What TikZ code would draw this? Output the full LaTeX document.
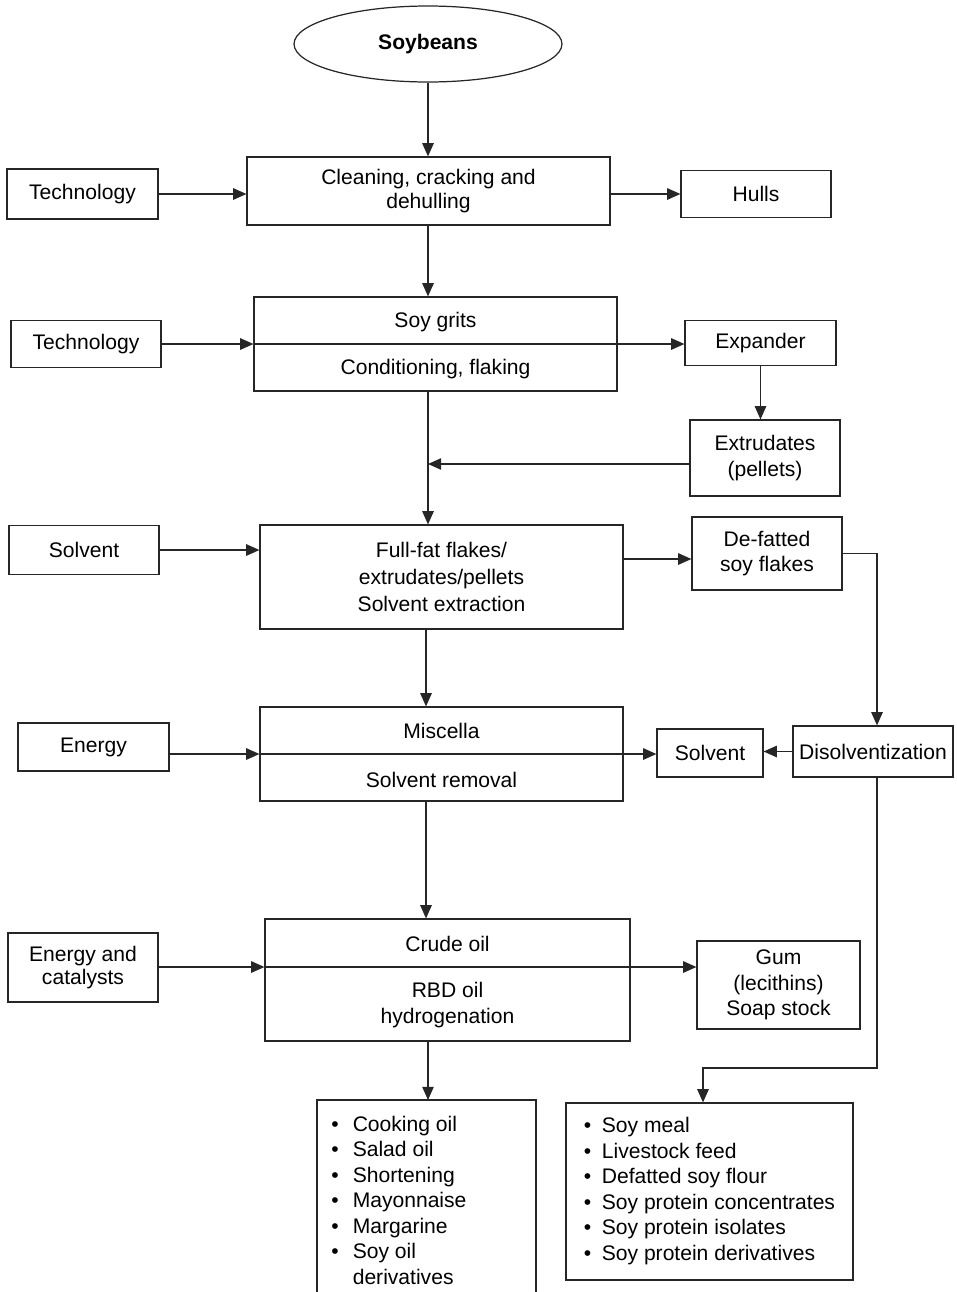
\documentclass[tikz,border=0pt]{standalone}
\usepackage{fontspec}
\setmainfont{Liberation Sans}
\usetikzlibrary{arrows.meta,shapes.geometric}

\begin{document}
\begin{tikzpicture}[x=0.02cm,y=-0.02cm,
  box/.style={draw=black!85,line width=0.7pt,inner sep=0pt,align=center,font=\fontsize{12}{14.5}\selectfont},
  txt/.style={inner sep=0pt,align=center,font=\fontsize{12}{14.5}\selectfont},
  arr/.style={draw=black!85,line width=0.7pt,-{Triangle[length=7.5pt,width=6.5pt]}}]
\useasboundingbox (0,0) rectangle (957,1292);
\coordinate (trunk) at (428,0);
\coordinate (trunkb) at (426,0);
\coordinate (route) at (877,0);
\coordinate (bend) at (703,1068);
\node[box,ellipse,minimum width=5.36cm,minimum height=1.52cm,font=\fontsize{12}{14.5}\selectfont\bfseries] (soy) at (428,44) {Soybeans};
\node[box,minimum width=7.26cm,minimum height=1.36cm,font=\fontsize{12}{13.6}\selectfont] (clean) at (428.5,191) {Cleaning, cracking and\\dehulling};
\node[box,minimum width=3.02cm,minimum height=1cm] (tech1) at (82.5,194) {Technology};
\node[box,minimum width=3cm,minimum height=0.94cm] (hulls) at (756,194) {Hulls};
\node[box,minimum width=7.26cm,minimum height=1.88cm] (grits) at (435.5,344) {};
\node[txt] (gritsA) at (435.5,322) {Soy grits};
\node[txt] (gritsB) at (435.5,369) {Conditioning, flaking};
\node[box,minimum width=3cm,minimum height=0.94cm] (tech2) at (86,344) {Technology};
\node[box,minimum width=3.02cm,minimum height=0.9cm] (expand) at (760.5,343) {Expander};
\node[box,minimum width=3cm,minimum height=1.52cm] (extr) at (765,458) {Extrudates\\(pellets)};
\node[box,minimum width=3cm,minimum height=0.98cm] (solv1) at (84,550) {Solvent};
\node[box,minimum width=7.26cm,minimum height=2.08cm,font=\fontsize{12}{15.3}\selectfont] (fullfat) at (441.5,577) {Full-fat flakes/\\extrudates/pellets\\Solvent extraction};
\node[box,minimum width=3cm,minimum height=1.46cm] (defat) at (767,553.5) {De-fatted\\soy flakes};
\node[box,minimum width=7.26cm,minimum height=1.88cm] (misc) at (441.5,754) {};
\node[txt] (miscA) at (441.5,731) {Miscella};
\node[txt] (miscB) at (441.5,780) {Solvent removal};
\node[box,minimum width=3.02cm,minimum height=0.96cm] (energy) at (93.5,747) {Energy};
\node[box,minimum width=2.12cm,minimum height=0.96cm] (solv2) at (710,753) {Solvent};
\node[box,minimum width=3.2cm,minimum height=1.02cm] (disol) at (873,751.5) {Disolventization};
\node[box,minimum width=7.3cm,minimum height=2.44cm] (crude) at (447.5,980) {};
\node[txt] (crudeA) at (447.5,944) {Crude oil};
\node[txt] (crudeB) at (447.5,1005) {RBD oil\\hydrogenation};
\node[box,minimum width=3cm,minimum height=1.38cm,font=\fontsize{12}{13.6}\selectfont] (encat) at (83,967.5) {Energy and\\catalysts};
\node[box,minimum width=3.26cm,minimum height=1.76cm] (gum) at (778.5,985) {Gum\\(lecithins)\\Soap stock};
\node[box,minimum width=5.74cm,minimum height=3.54cm] (meal) at (709.5,1191.5) {%
  \begin{tabular}{@{}l@{\hspace{6pt}}l@{}}
  \textbullet & Soy meal\\
  \textbullet & Livestock feed\\
  \textbullet & Defatted soy flour\\
  \textbullet & Soy protein concentrates\\
  \textbullet & Soy protein isolates\\
  \textbullet & Soy protein derivatives
  \end{tabular}};
% open box at the foot of the page
\coordinate (oilNW) at (317,1100);
\coordinate (oilSE) at (536,1292);
\draw[draw=black!85,line width=0.7pt] (oilNW |- oilSE) -- (oilNW) -| (oilSE);
\node[txt,anchor=north west,align=left] (oil) at (331,1113) {%
  \begin{tabular}{@{}l@{\hspace{8pt}}l@{}}
  \textbullet & Cooking oil\\
  \textbullet & Salad oil\\
  \textbullet & Shortening\\
  \textbullet & Mayonnaise\\
  \textbullet & Margarine\\
  \textbullet & Soy oil\\
              & derivatives
  \end{tabular}};
% connectors
\coordinate (extrout) at ([yshift=-0.12cm]extr.west);
\coordinate (defin) at ([yshift=-0.11cm]defat.west);
\coordinate (crudemid) at (447.5,967);
\draw[arr] (soy.south -| trunk) -- (clean.north -| trunk);
\draw[arr] (tech1.east) -- (tech1.east -| clean.west);
\draw[arr] (clean.east |- hulls) -- (hulls.west);
\draw[arr] (clean.south -| trunk) -- (grits.north -| trunk);
\draw[arr] (tech2.east) -- (tech2.east -| grits.west);
\draw[arr] (grits.west) -- (grits.west -| expand.west);
\draw[arr] (expand.south -| expand) -- (extr.north -| expand);
\draw[arr] (extrout) -- (extrout -| trunk);
\draw[arr] (grits.south -| trunk) -- (fullfat.north -| trunk);
\draw[arr] (solv1.east) -- (solv1.east -| fullfat.west);
\draw[arr] (fullfat.east |- defin) -- (defin);
\draw[arr] (defat.east) -| (disol.north -| route);
\draw[arr] (fullfat.south -| trunkb) -- (misc.north -| trunkb);
\draw[arr] (energy.east |- misc) -- (misc.west);
\draw[arr] (misc.west) -- (misc.west -| solv2.west);
\draw[arr] (disol.west) -- (disol.west -| solv2.east);
\draw[arr] (misc.south -| trunkb) -- (crude.north -| trunkb);
\draw[arr] (encat.east |- crudemid) -- (crude.west |- crudemid);
\draw[arr] (crude.west |- crudemid) -- (gum.west |- crudemid);
\draw[arr] (disol.south -| route) |- (bend) -- (bend |- meal.north);
\draw[arr] (crude.south -| trunk) -- (oilNW -| trunk);
\end{tikzpicture}
\end{document}
